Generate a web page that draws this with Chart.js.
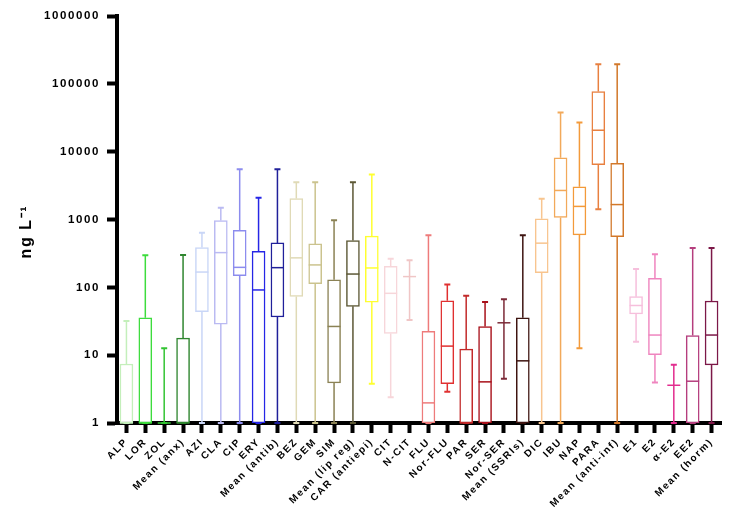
<!DOCTYPE html>
<html>
<head>
<meta charset="utf-8">
<script src="https://cdn.jsdelivr.net/npm/chart.js@4.4.1/dist/chart.umd.min.js"></script>
<style>
  html, body { margin: 0; padding: 0; background: #fff; }
  #wrap { width: 736px; height: 522px; position: relative; }
</style>
</head>
<body>
<div id="wrap"><canvas id="boxChart"></canvas></div>
<script>
const categories = ['ALP', 'LOR', 'ZOL', 'Mean (anx)', 'AZI', 'CLA', 'CIP', 'ERY', 'Mean (antib)',
    'BEZ', 'GEM', 'SIM', 'Mean (lip reg)', 'CAR (antiepi)', 'CIT', 'N-CIT', 'FLU', 'Nor-FLU',
    'PAR', 'SER', 'Nor-SER', 'Mean (SSRIs)', 'DIC', 'IBU', 'NAP', 'PARA', 'Mean (anti-inf)',
    'E1', 'E2', 'α-E2', 'EE2', 'Mean (horm)'];

// five-number summaries, ng/L
const minValues = [1, 1, 1, 1, 1, 1, 1, 1, 1, 1, 1, 1, 1, 3.8, 2.4, 33, 1, 2.9, 1, 1, 4.5, 1,
    1, 1, 12.7, 1420, 1, 15.8, 3.95, 1, 1, 1];
const q1Values = [1, 1, 1, 1, 43.6, 28.7, 148, 1, 36.5, 73.5, 113, 3.9, 52.4, 60.6, 20.9, 144, 1, 3.8,
    1, 1, 30, 1, 165, 1070, 593, 6440, 560, 40.7, 10.2, 3.6, 1, 7.2];
const medianValues = [1, 1, 1, 1, 168, 325, 197, 91.5, 195, 272, 214, 26.5, 157, 193, 81.6, 144, 1.98, 13.6,
    1, 4.04, 30, 8.25, 448, 2680, 1560, 20700, 1660, 54, 19.8, 3.6, 4.13, 19.8];
const q3Values = [7.4, 35.6, 1, 17.8, 385, 966, 695, 340, 452, 2040, 437, 129, 490, 568, 204, 144, 22.4, 63.4,
    12.3, 26.5, 30, 35.6, 1023, 8130, 3040, 77000, 6730, 72.8, 136, 3.6, 19.5, 62.8];
const maxValues = [32, 297, 12.7, 300, 640, 1490, 5500, 2090, 5500, 3530, 3530, 975, 3530, 4620, 263, 250, 585, 110,
    75.3, 61, 67, 585, 2020, 37700, 26800, 195000, 195000, 187, 307, 7.2, 380, 380];

const boxColors = ['#c4efbb', '#3ddc3d', '#33c433', '#2f862f', '#c9d6f7', '#babaf2', '#8c8cee', '#2626e6', '#20209a',
    '#e0dab6', '#cbc38e', '#8b8255', '#5c5835', '#ffff30', '#f7d6da', '#f0c6c6', '#ee7b7b', '#e03030',
    '#c22a2a', '#a8101a', '#7c2a38', '#3e1410', '#f8c58f', '#f2a95a', '#f39a3a', '#e88040', '#d2782a',
    '#f6bfdc', '#ef85bf', '#e22d8f', '#b53e7e', '#7c1848'];

const yTickValues = [1, 10, 100, 1000, 10000, 100000, 1000000];

const FONT = "'Liberation Sans', Arial, sans-serif";

// whiskers, caps and medians drawn on top of the box bars
const whiskerPlugin = {
    id: 'whiskers',
    afterDatasetsDraw(chart) {
        const { ctx, scales: { y } } = chart;
        const meta = chart.getDatasetMeta(0);
        ctx.save();
        meta.data.forEach((bar, i) => {
            const cx = bar.x;
            const half = bar.width / 2;
            const yMin = y.getPixelForValue(minValues[i]);
            const yQ1 = y.getPixelForValue(q1Values[i]);
            const yMed = y.getPixelForValue(medianValues[i]);
            const yQ3 = y.getPixelForValue(q3Values[i]);
            const yMax = y.getPixelForValue(maxValues[i]);
            ctx.strokeStyle = boxColors[i];

            ctx.lineWidth = 1.5;
            ctx.beginPath();
            ctx.moveTo(cx, yMin);
            ctx.lineTo(cx, yQ1);
            ctx.moveTo(cx, yQ3);
            ctx.lineTo(cx, yMax);
            ctx.stroke();

            ctx.lineWidth = 2;
            ctx.beginPath();
            ctx.moveTo(cx - 3, yMax);
            ctx.lineTo(cx + 3, yMax);
            ctx.moveTo(cx - 3, yMin);
            ctx.lineTo(cx + 3, yMin);
            ctx.stroke();

            ctx.lineWidth = 1.5;
            ctx.beginPath();
            ctx.moveTo(cx - half, yMed);
            ctx.lineTo(cx + half, yMed);
            ctx.stroke();
        });
        ctx.restore();
    }
};

const spacingPlugin = {
    id: 'letterSpacing',
    beforeDraw(chart) {
        chart.ctx.letterSpacing = '1.6px';
    }
};

new Chart(document.getElementById('boxChart'), {
    type: 'bar',
    data: {
        labels: categories,
        datasets: [{
            data: categories.map((_, i) => [q1Values[i], q3Values[i]]),
            backgroundColor: '#ffffff',
            borderColor: boxColors,
            borderWidth: 1.5,
            borderSkipped: false,
            barThickness: 13
        }]
    },
    options: {
        responsive: true,
        maintainAspectRatio: false,
        animation: false,
        layout: { padding: { top: 16, right: 15, left: 0, bottom: 0 } },
        plugins: {
            legend: { display: false },
            tooltip: { enabled: false }
        },
        scales: {
            x: {
                offset: true,
                afterFit: (scale) => { scale.height = 99; },
                grid: {
                    offset: false,
                    drawOnChartArea: false,
                    drawTicks: true,
                    tickLength: 10,
                    tickWidth: 4,
                    tickColor: '#000'
                },
                border: { display: true, width: 4, color: '#000' },
                ticks: {
                    autoSkip: false,
                    minRotation: 45,
                    maxRotation: 45,
                    padding: 3,
                    color: '#000',
                    font: { family: FONT, size: 10, weight: 'bold' }
                }
            },
            y: {
                type: 'logarithmic',
                min: 1,
                max: 1000000,
                afterFit: (scale) => { scale.width = 117; },
                afterBuildTicks: (scale) => {
                    scale.ticks = yTickValues.map(v => ({ value: v }));
                },
                grid: {
                    drawOnChartArea: false,
                    drawTicks: true,
                    tickLength: 10,
                    tickWidth: 4,
                    tickColor: '#000'
                },
                border: { display: true, width: 4, color: '#000' },
                ticks: {
                    padding: 7,
                    color: '#000',
                    font: { family: FONT, size: 11.5, weight: 'bold' },
                    callback: (value) => String(value)
                },
                title: {
                    display: true,
                    // trailing spaces nudge the rotated title down to where it sits in the original
                    text: 'ng L⁻¹    ',
                    color: '#000',
                    padding: { top: 17, bottom: 0 },
                    font: { family: FONT, size: 16, weight: 'bold' }
                }
            }
        }
    },
    plugins: [whiskerPlugin, spacingPlugin]
});
</script>
</body>
</html>
